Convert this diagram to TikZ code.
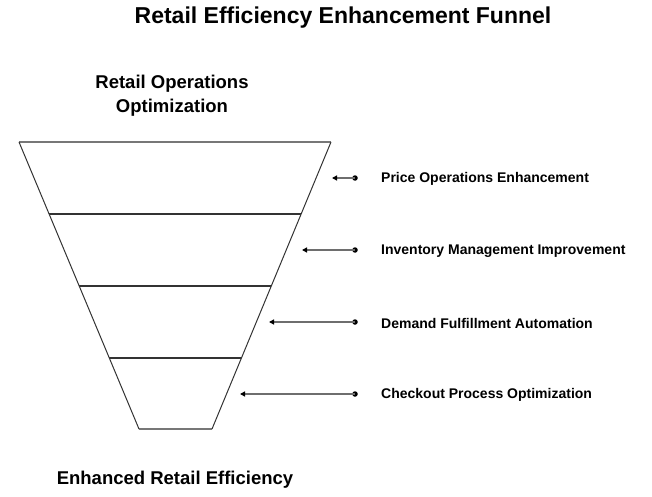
\documentclass[tikz,border=0pt]{standalone}
\usepackage{fontspec}
\setmainfont{Liberation Sans}
\usetikzlibrary{arrows.meta}
\definecolor{edge}{HTML}{333333}
\definecolor{capline}{HTML}{777777}
\definecolor{arrline}{HTML}{6E6E6E}
\tikzset{
  lbl/.style={anchor=west, font=\bfseries\fontsize{14}{16}\selectfont, inner sep=0pt},
  hdr/.style={font=\bfseries\fontsize{18.5}{24}\selectfont, align=center, inner sep=0pt},
  ttl/.style={font=\bfseries\fontsize{23}{26}\selectfont, inner sep=0pt},
  conn/.style={draw=arrline, line width=1.4pt, -{Triangle[length=5pt,width=5pt,fill=black,color=black]}},
  dotnode/.style={circle, fill=black, inner sep=0pt, minimum size=5.5pt},
  sideline/.style={draw=edge, line width=1pt},
  midline/.style={draw=edge, line width=2pt},
  capedge/.style={draw=capline, line width=1.6pt}
}
\begin{document}
\begin{tikzpicture}[x=1pt,y=-1pt]
\useasboundingbox (0,0) rectangle (652,497);
% funnel corners
\coordinate (tl) at (19,142);
\coordinate (tr) at (331,142);
\coordinate (bl) at (139,429);
\coordinate (br) at (212,429);
\coordinate (l1) at (49.1,214);  \coordinate (r1) at (301.1,214);
\coordinate (l2) at (79.2,286);  \coordinate (r2) at (271.2,286);
\coordinate (l3) at (109.3,358); \coordinate (r3) at (241.3,358);
\draw[capedge] (tl) -- (tr);
\draw[capedge] (bl) -- (br);
\draw[sideline] (tl) -- (bl);
\draw[sideline] (tr) -- (br);
\draw[midline] (l1) -- (r1);
\draw[midline] (l2) -- (r2);
\draw[midline] (l3) -- (r3);
% title and headers
\node[ttl] (title) at (343,17.5) {Retail Efficiency Enhancement Funnel};
\node[hdr] (top) at (172,95.5) {Retail Operations\\Optimization};
\node[hdr] (bottom) at (175,480) {Enhanced Retail Efficiency};
% labels
\node[lbl] (t1) at (381,179) {Price Operations Enhancement};
\node[lbl] (t2) at (381,251) {Inventory Management Improvement};
\node[lbl] (t3) at (381,323) {Demand Fulfillment Automation};
\node[lbl] (t4) at (381,395) {Checkout Process Optimization};
% dots and tips
\node[dotnode] (d1) at (355,178) {};
\node[dotnode] (d2) at (355,250) {};
\node[dotnode] (d3) at (355,322) {};
\node[dotnode] (d4) at (355,394) {};
\coordinate (a1) at (332,178);
\coordinate (a2) at (302,250);
\coordinate (a3) at (269,322);
\coordinate (a4) at (240,394);
\draw[conn] (d1.center) -- (a1);
\draw[conn] (d2.center) -- (a2);
\draw[conn] (d3.center) -- (a3);
\draw[conn] (d4.center) -- (a4);
\end{tikzpicture}
\end{document}
